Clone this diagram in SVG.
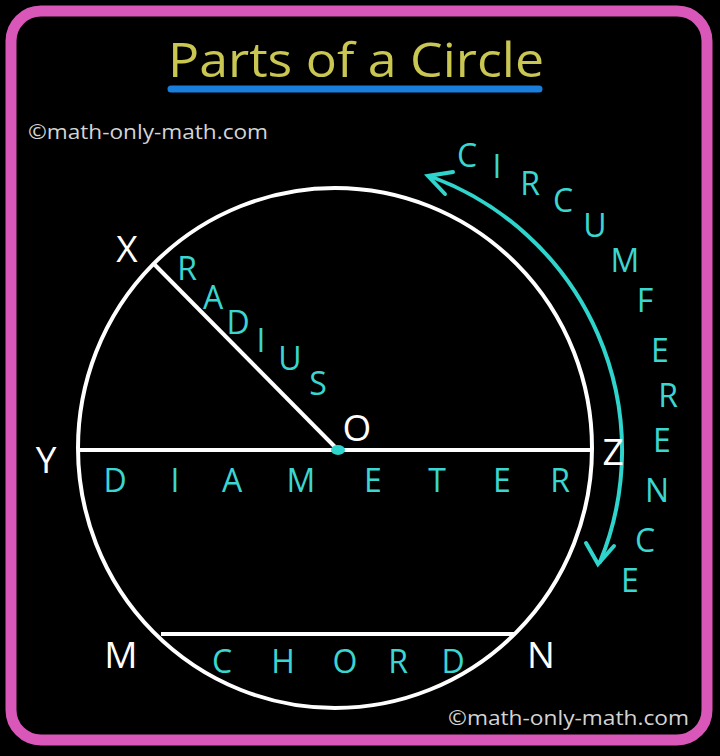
<svg xmlns="http://www.w3.org/2000/svg" width="720" height="756" viewBox="0 0 720 756">
<defs>
<style>
.lbl{font-family:"Open Sans","Liberation Sans",sans-serif;fill:#ffffff;font-size:37px;text-anchor:middle}
.cy{font-family:"Open Sans","Liberation Sans",sans-serif;fill:#3ad6cf;font-size:32px;text-anchor:middle}
.wm{font-family:"Open Sans","Liberation Sans",sans-serif;fill:#d4d4d4;font-size:20px}
.wl{stroke:#ffffff;stroke-width:4;fill:none}
.cl{stroke:#2fd4cc;stroke-width:4;fill:none;stroke-linecap:round}
</style>
</defs>
<rect x="0" y="0" width="720" height="756" fill="#000"/>
<rect x="11" y="11" width="696" height="729" rx="30" ry="30" fill="none" stroke="#d957b8" stroke-width="11"/>
<g id="title">
<text x="356" y="77" font-family="Open Sans, Liberation Sans, sans-serif" font-size="47" fill="#c9c652" text-anchor="middle" textLength="376" lengthAdjust="spacingAndGlyphs">Parts of a Circle</text>
<line x1="171" y1="89" x2="539" y2="89" stroke="#1a7fdc" stroke-width="7" stroke-linecap="round"/>
</g>
<text class="wm" x="28" y="139" textLength="240" lengthAdjust="spacingAndGlyphs">©math-only-math.com</text>
<text class="wm" x="448" y="725" textLength="241" lengthAdjust="spacingAndGlyphs">©math-only-math.com</text>
<g id="circle">
<ellipse cx="335" cy="448" rx="257" ry="260" class="wl"/>
</g>
<g id="connectors">
<line x1="78" y1="450" x2="592" y2="450" class="wl"/>
<line x1="153" y1="263" x2="338" y2="450" class="wl"/>
<line x1="161" y1="634" x2="514" y2="634" class="wl"/>
<path d="M432 177 A292 292 0 0 1 600 562" class="cl"/>
<path d="M453 172 L428 176 L445 194" class="cl"/>
<path d="M586 543 L598 564 L614 546" class="cl"/>
</g>
<g id="O"><ellipse cx="338" cy="450" rx="7" ry="5" fill="#2fd4cc"/><text class="lbl" x="357" y="441">O</text></g>
<g id="X"><text class="lbl" x="127" y="262">X</text></g>
<g id="Y"><text class="lbl" x="46" y="473">Y</text></g>
<g id="Z"><text class="lbl" x="613" y="465">Z</text></g>
<g id="M"><text class="lbl" x="121" y="668">M</text></g>
<g id="N"><text class="lbl" x="541" y="668">N</text></g>
<g id="radius">
<text class="cy" x="187" y="280">R</text>
<text class="cy" x="213" y="309">A</text>
<text class="cy" x="238" y="334">D</text>
<text class="cy" x="261" y="352">I</text>
<text class="cy" x="290" y="370">U</text>
<text class="cy" x="318" y="395">S</text>
</g>
<g id="diameter">
<text class="cy" x="115" y="492">D</text>
<text class="cy" x="175" y="492">I</text>
<text class="cy" x="232" y="492">A</text>
<text class="cy" x="301" y="492">M</text>
<text class="cy" x="373" y="492">E</text>
<text class="cy" x="437" y="492">T</text>
<text class="cy" x="502" y="492">E</text>
<text class="cy" x="560" y="492">R</text>
</g>
<g id="chord">
<text class="cy" x="222" y="673">C</text>
<text class="cy" x="283" y="673">H</text>
<text class="cy" x="345" y="673">O</text>
<text class="cy" x="398" y="673">R</text>
<text class="cy" x="453" y="673">D</text>
</g>
<g id="circumference">
<text class="cy" x="467" y="167">C</text>
<text class="cy" x="497" y="178">I</text>
<text class="cy" x="530" y="195">R</text>
<text class="cy" x="563" y="212">C</text>
<text class="cy" x="595" y="237">U</text>
<text class="cy" x="625" y="272">M</text>
<text class="cy" x="645" y="312">F</text>
<text class="cy" x="660" y="362">E</text>
<text class="cy" x="668" y="407">R</text>
<text class="cy" x="662" y="452">E</text>
<text class="cy" x="657" y="502">N</text>
<text class="cy" x="645" y="552">C</text>
<text class="cy" x="630" y="592">E</text>
</g>
</svg>
